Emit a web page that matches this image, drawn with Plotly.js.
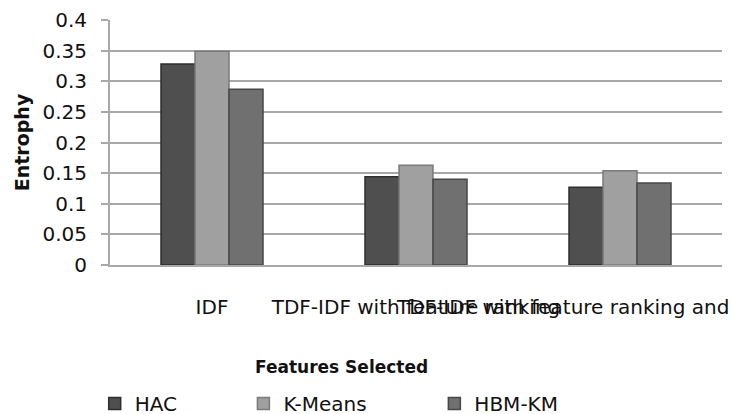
<!DOCTYPE html>
<html>
<head>
<meta charset="utf-8">
<script src="https://cdn.plot.ly/plotly-3.0.1.min.js"></script>
<style>
  html, body { margin: 0; padding: 0; background: #fff; }
  #chart { width: 733px; height: 414px; }
</style>
</head>
<body>
<div id="chart"></div>
<script>
// Feature-selection schemes compared on the x axis
const categories = [
  "IDF",
  "TDF-IDF with feature ranking",
  "TDF-IDF with feature ranking and correlation"
];

// Entropy per clustering method
const hacValues    = [0.328, 0.144, 0.127];
const kmeansValues = [0.349, 0.163, 0.154];
const hbmkmValues  = [0.287, 0.140, 0.134];

const seriesNames = ["HAC", "K-Means", "HBM-KM"];
const yTickValues = [0, 0.05, 0.1, 0.15, 0.2, 0.25, 0.3, 0.35, 0.4];

const font = "DejaVu Sans, sans-serif";

function barTrace(name, values, fill, edge, legendId) {
  return {
    type: "bar",
    name: name,
    x: categories,
    y: values,
    legend: legendId,
    marker: { color: fill, line: { color: edge, width: 1.5 } },
    hoverinfo: "x+y+name"
  };
}

const data = [
  barTrace(seriesNames[0], hacValues,    "#4f4f4f", "#2e2e2e", "legend"),
  barTrace(seriesNames[1], kmeansValues, "#a0a0a0", "#7a7a7a", "legend2"),
  barTrace(seriesNames[2], hbmkmValues,  "#707070", "#474747", "legend3")
];

// One legend per series, spread along the bottom strip
function legendAt(x) {
  return {
    x: x, xanchor: "left",
    y: -0.565, yanchor: "middle",
    bgcolor: "rgba(0,0,0,0)",
    borderwidth: 0,
    font: { family: font, size: 20, color: "#111" }
  };
}

const layout = {
  width: 733,
  height: 414,
  margin: { l: 110, r: 11, t: 20, b: 149, autoexpand: false },
  paper_bgcolor: "#fff",
  plot_bgcolor: "#fff",
  barmode: "group",
  bargap: 0.5,
  bargroupgap: 0,
  xaxis: {
    type: "category",
    showgrid: false,
    showline: true,
    linecolor: "#a8a8a8",
    linewidth: 2,
    ticks: "",
    tickangle: 0,
    ticklabelstandoff: 23,
    tickfont: { family: font, size: 20, color: "#111" },
    automargin: false
  },
  yaxis: {
    range: [0, 0.4],
    tickvals: yTickValues,
    showgrid: true,
    gridcolor: "#a8a8a8",
    gridwidth: 2,
    zeroline: false,
    showline: true,
    linecolor: "#a8a8a8",
    linewidth: 2,
    ticks: "outside",
    ticklen: 7,
    tickwidth: 2,
    tickcolor: "#a8a8a8",
    ticklabelstandoff: 10,
    tickfont: { family: font, size: 20, color: "#111" },
    title: {
      text: "Entrophy",
      font: { family: font, size: 19, color: "#111", weight: "bold" },
      standoff: 8
    },
    automargin: false
  },
  showlegend: true,
  legend:  legendAt(-0.025),
  legend2: legendAt(0.218),
  legend3: legendAt(0.530),
  annotations: [{
    text: "<b>Features Selected</b>",
    xref: "paper", yref: "paper",
    x: 0.378, y: -0.416,
    xanchor: "center", yanchor: "middle",
    showarrow: false,
    font: { family: font, size: 17, color: "#111" }
  }]
};

Plotly.newPlot("chart", data, layout, { displayModeBar: false, staticPlot: true });
</script>
</body>
</html>
